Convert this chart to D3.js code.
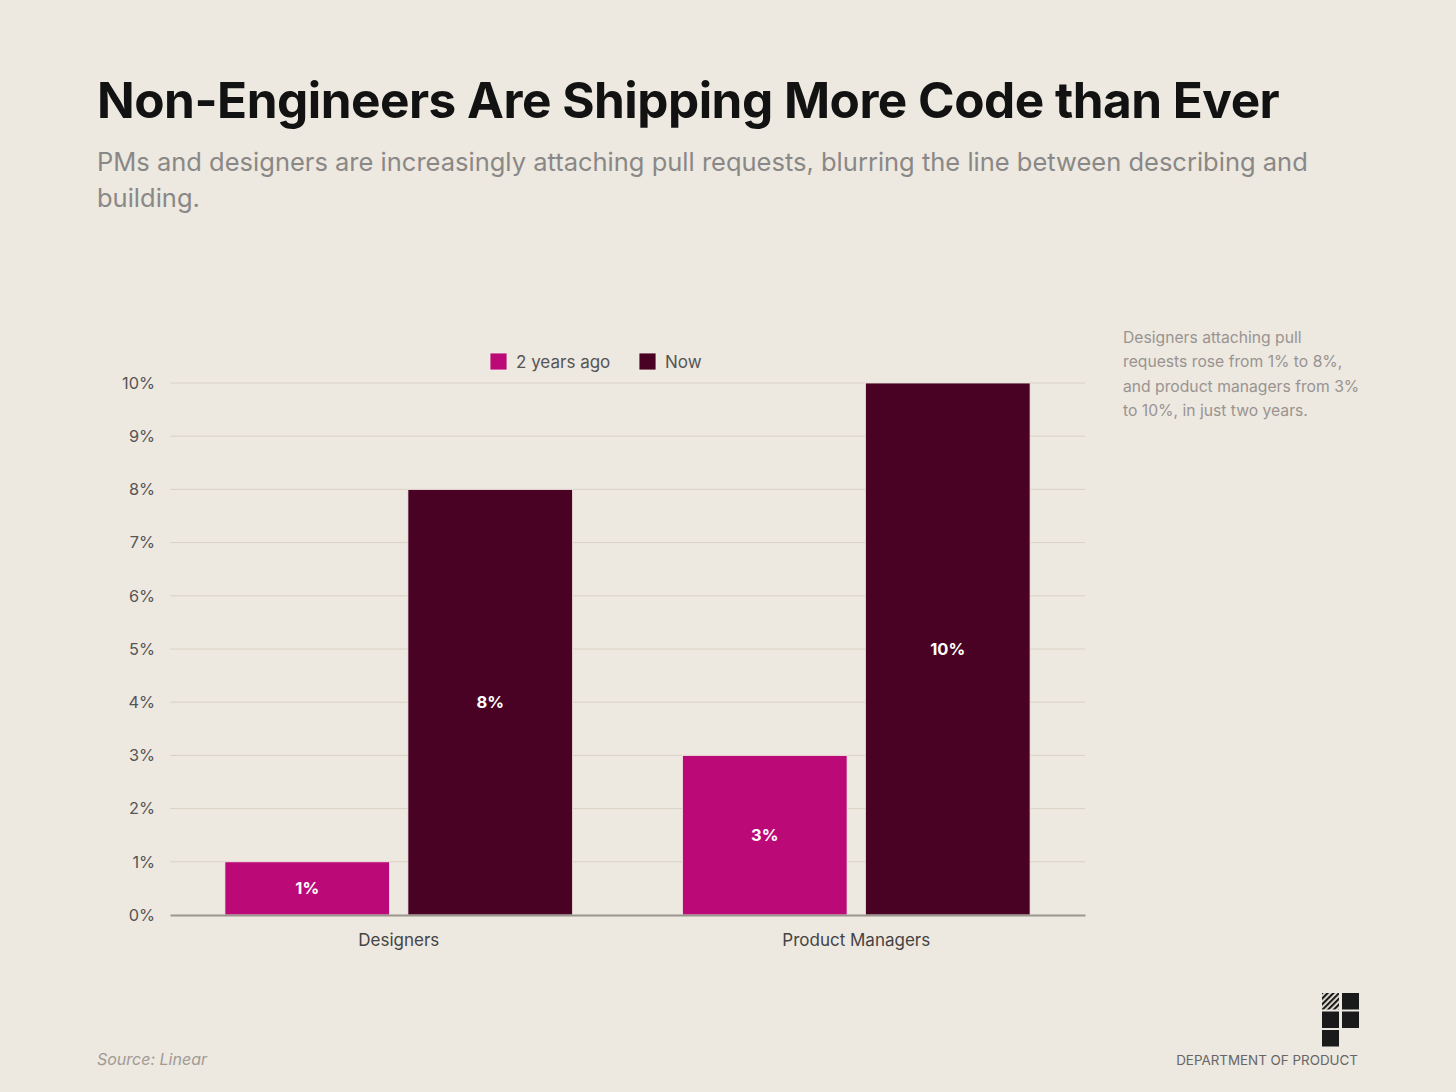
<!DOCTYPE html>
<html>
<head>
<meta charset="utf-8">
<script src="https://cdn.jsdelivr.net/npm/d3@7"></script>
<style>
  html, body { margin: 0; padding: 0; background: #ede8e0; }
  svg { display: block; font-family: Inter, "Noto Sans", sans-serif; }
</style>
</head>
<body>
<svg id="chart" width="1456" height="1092"></svg>
<script>
const categories = ["Designers", "Product Managers"];
const seriesNames = ["2 years ago", "Now"];
const values2YearsAgo = [1, 3];
const valuesNow = [8, 10];
const yTicks = [0, 1, 2, 3, 4, 5, 6, 7, 8, 9, 10];
const colors = ["#bb0a78", "#4a0224"];
const annotationLines = ["Designers attaching pull", "requests rose from 1% to 8%,", "and product managers from 3%", "to 10%, in just two years."];

const svg = d3.select("#chart");
svg.append("rect").attr("width", 1456).attr("height", 1092).attr("fill", "#ede8e0");

// Title & subtitle
svg.append("text").attr("x", 97).attr("y", 118)
  .attr("font-size", 49.5).attr("font-weight", 700).attr("fill", "#121212")
  .attr("letter-spacing", -0.5)
  .text("Non-Engineers Are Shipping More Code than Ever");
const sub = svg.append("text").attr("font-size", 25.5).attr("fill", "#8a8886");
sub.append("tspan").attr("x", 97).attr("y", 171)
  .text("PMs and designers are increasingly attaching pull requests, blurring the line between describing and");
sub.append("tspan").attr("x", 97).attr("y", 207).text("building.");

// Scales
const margin = { left: 170, right: 1085, top: 383, bottom: 915 };
const x0 = d3.scaleBand().domain(categories).range([margin.left, margin.right])
  .paddingInner(0.24).paddingOuter(0.12);
const x1 = d3.scaleBand().domain(seriesNames).range([0, x0.bandwidth()])
  .paddingInner(0.1).paddingOuter(0);
const y = d3.scaleLinear().domain([0, 10]).range([margin.bottom, margin.top]);

// Grid
svg.append("g").selectAll("line").data(yTicks.filter(d => d > 0)).join("line")
  .attr("x1", margin.left).attr("x2", margin.right)
  .attr("y1", d => y(d)).attr("y2", d => y(d))
  .attr("stroke", "#d8d2c4").attr("stroke-width", 1);

// Y axis
const yAxis = svg.append("g").attr("transform", `translate(${margin.left},0)`)
  .call(d3.axisLeft(y).tickValues(yTicks).tickFormat(d => d + "%").tickSize(0).tickPadding(15));
yAxis.select(".domain").remove();
yAxis.selectAll("text").attr("font-size", 16.3).attr("fill", "#555").attr("font-family", "Inter, sans-serif");

// Bars
const data = categories.map((c, i) => ({ cat: c, vals: [values2YearsAgo[i], valuesNow[i]] }));
const groups = svg.append("g").selectAll("g").data(data).join("g")
  .attr("transform", d => `translate(${x0(d.cat)},0)`);
groups.selectAll("rect").data(d => d.vals.map((v, j) => ({ s: seriesNames[j], v, j }))).join("rect")
  .attr("x", d => x1(d.s)).attr("width", x1.bandwidth())
  .attr("y", d => y(d.v)).attr("height", d => y(0) - y(d.v))
  .attr("fill", d => colors[d.j]).attr("stroke", "#f4efe6").attr("stroke-width", 0.8);
groups.selectAll("text").data(d => d.vals.map((v, j) => ({ s: seriesNames[j], v, j }))).join("text")
  .attr("x", d => x1(d.s) + x1.bandwidth() / 2)
  .attr("y", d => (y(d.v) + y(0)) / 2 + 6)
  .attr("text-anchor", "middle").attr("font-size", 16.5).attr("font-weight", 700).attr("fill", "#fff")
  .text(d => d.v + "%");

// X axis
const xAxis = svg.append("g").attr("transform", `translate(0,${margin.bottom})`)
  .call(d3.axisBottom(x0).tickSize(0).tickPadding(19));
xAxis.select(".domain").attr("stroke", "#9a958d").attr("stroke-width", 2);
xAxis.selectAll("text").attr("font-size", 17).attr("fill", "#444").attr("font-family", "Inter, sans-serif");

// Legend
const legend = svg.append("g");
const legendX = [490, 639];
seriesNames.forEach((s, i) => {
  legend.append("rect").attr("x", legendX[i]).attr("y", 353).attr("width", 17).attr("height", 17)
    .attr("fill", colors[i]).attr("stroke", "#f4efe6").attr("stroke-width", 0.8);
  legend.append("text").attr("x", legendX[i] + 26).attr("y", 368)
    .attr("font-size", 17).attr("fill", "#555").text(s);
});

// Annotation
const ann = svg.append("text").attr("font-size", 15.7).attr("fill", "#999490");
annotationLines.forEach((l, i) => {
  ann.append("tspan").attr("x", 1123).attr("y", 343 + i * 24.3).text(l);
});

// Footer
svg.append("text").attr("x", 97).attr("y", 1065).attr("font-size", 16)
  .attr("font-style", "italic").attr("fill", "#a09b95").text("Source: Linear");
svg.append("text").attr("x", 1358).attr("y", 1065).attr("text-anchor", "end")
  .attr("font-size", 13.4).attr("letter-spacing", 0).attr("fill", "#666").text("DEPARTMENT OF PRODUCT");

// Logo
const defs = svg.append("defs");
const pat = defs.append("pattern").attr("id", "hatch").attr("patternUnits", "userSpaceOnUse")
  .attr("width", 4).attr("height", 4).attr("patternTransform", "rotate(45)");
pat.append("rect").attr("width", 4).attr("height", 4).attr("fill", "#ede8e0");
pat.append("rect").attr("width", 2.2).attr("height", 4).attr("fill", "#1a1a1a");
const logoCells = [[0, 0, true], [1, 0, false], [0, 1, false], [1, 1, false], [0, 2, false]];
svg.append("g").selectAll("rect").data(logoCells).join("rect")
  .attr("x", d => 1322 + d[0] * 20).attr("y", d => 993 + d[1] * 18.5)
  .attr("width", 17).attr("height", 16.5)
  .attr("fill", d => d[2] ? "url(#hatch)" : "#1a1a1a");
</script>
</body>
</html>
